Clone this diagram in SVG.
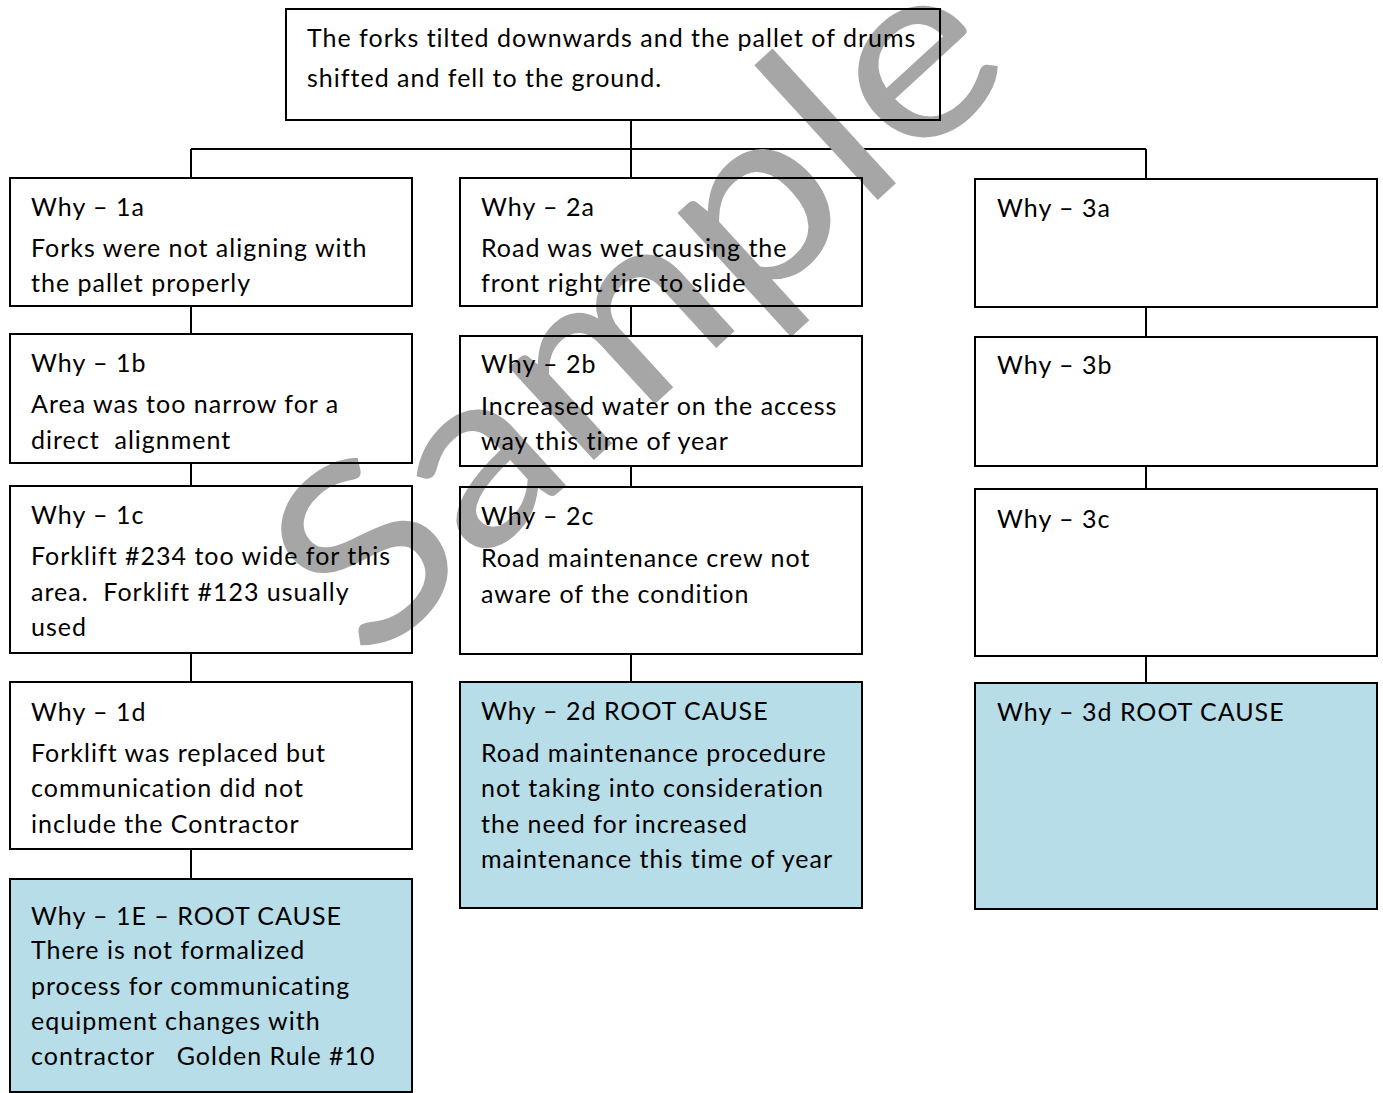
<svg xmlns="http://www.w3.org/2000/svg" width="1383" height="1093" viewBox="0 0 1383 1093">
<style>
.box{fill:none;stroke:#000;stroke-width:2}
.root{fill:#b7dde8;stroke:#000;stroke-width:2}
.t{font-family:Lato,"Liberation Sans",sans-serif;font-size:25px;letter-spacing:1px;fill:#000;white-space:pre}
.wm{font-family:Lato,"Liberation Sans",sans-serif;font-size:248px;fill:#a6a6a6}
#connectors path{stroke:#000;stroke-width:2;fill:none}
</style>
<rect width="1383" height="1093" fill="#fff"/>
<g id="connectors">
<path d="M631,120V178M191,149H1146M191,149V178M1146,149V179"/>
<path d="M191,306V334M191,463V486M191,653V682M191,849V879"/>
<path d="M631,306V336M631,466V487M631,654V682"/>
<path d="M1146,307V337M1146,466V489M1146,656V683"/>
</g>
<g id="watermark">
<text class="wm" transform="translate(368,667) rotate(-42.5) scale(1.12,1)">Sample</text>
</g>
<g id="top">
<rect class="box" x="286" y="9" width="654" height="111"/>
<text class="t" x="307" y="46.5">The forks tilted downwards and the pallet of drums</text>
<text class="t" x="307" y="86.5">shifted and fell to the ground.</text>
</g>
<g id="why1a">
<rect class="box" x="10" y="178" width="402" height="128"/>
<text class="t" x="31" y="215.5">Why – 1a</text>
<text class="t" x="31" y="257">Forks were not aligning with</text>
<text class="t" x="31" y="292">the pallet properly</text>
</g>
<g id="why1b">
<rect class="box" x="10" y="334" width="402" height="129"/>
<text class="t" x="31" y="372">Why – 1b</text>
<text class="t" x="31" y="413">Area was too narrow for a</text>
<text class="t" x="31" y="448.5">direct  alignment</text>
</g>
<g id="why1c">
<rect class="box" x="10" y="486" width="402" height="167"/>
<text class="t" x="31" y="523.5">Why – 1c</text>
<text class="t" x="31" y="565">Forklift #234 too wide for this</text>
<text class="t" x="31" y="600.5">area.  Forklift #123 usually</text>
<text class="t" x="31" y="636">used</text>
</g>
<g id="why1d">
<rect class="box" x="10" y="682" width="402" height="167"/>
<text class="t" x="31" y="720.5">Why – 1d</text>
<text class="t" x="31" y="761.5">Forklift was replaced but</text>
<text class="t" x="31" y="797">communication did not</text>
<text class="t" x="31" y="832.5">include the Contractor</text>
</g>
<g id="why1e">
<rect class="root" x="10" y="879" width="402" height="213"/>
<text class="t" x="31" y="925">Why – 1E – ROOT CAUSE</text>
<text class="t" x="31" y="958.5">There is not formalized</text>
<text class="t" x="31" y="994.5">process for communicating</text>
<text class="t" x="31" y="1030">equipment changes with</text>
<text class="t" x="31" y="1065">contractor   Golden Rule #10</text>
</g>
<g id="why2a">
<rect class="box" x="460" y="178" width="402" height="128"/>
<text class="t" x="481" y="215.5">Why – 2a</text>
<text class="t" x="481" y="257">Road was wet causing the</text>
<text class="t" x="481" y="292">front right tire to slide</text>
</g>
<g id="why2b">
<rect class="box" x="460" y="336" width="402" height="130"/>
<text class="t" x="481" y="373">Why – 2b</text>
<text class="t" x="481" y="415">Increased water on the access</text>
<text class="t" x="481" y="450">way this time of year</text>
</g>
<g id="why2c">
<rect class="box" x="460" y="487" width="402" height="167"/>
<text class="t" x="481" y="525">Why – 2c</text>
<text class="t" x="481" y="567">Road maintenance crew not</text>
<text class="t" x="481" y="603">aware of the condition</text>
</g>
<g id="why2d">
<rect class="root" x="460" y="682" width="402" height="226"/>
<text class="t" x="481" y="720">Why – 2d ROOT CAUSE</text>
<text class="t" x="481" y="761.5">Road maintenance procedure</text>
<text class="t" x="481" y="797">not taking into consideration</text>
<text class="t" x="481" y="832.5">the need for increased</text>
<text class="t" x="481" y="868">maintenance this time of year</text>
</g>
<g id="why3a">
<rect class="box" x="975" y="179" width="402" height="128"/>
<text class="t" x="997" y="216.5">Why – 3a</text>
</g>
<g id="why3b">
<rect class="box" x="975" y="337" width="402" height="129"/>
<text class="t" x="997" y="374">Why – 3b</text>
</g>
<g id="why3c">
<rect class="box" x="975" y="489" width="402" height="167"/>
<text class="t" x="997" y="527.5">Why – 3c</text>
</g>
<g id="why3d">
<rect class="root" x="975" y="683" width="402" height="226"/>
<text class="t" x="997" y="720.5">Why – 3d ROOT CAUSE</text>
</g>
</svg>
